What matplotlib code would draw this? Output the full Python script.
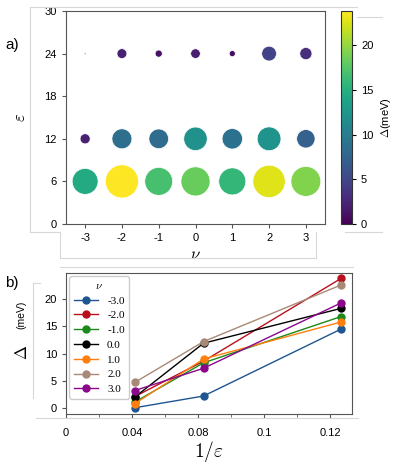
import numpy as np
import matplotlib
import matplotlib.pyplot as plt
from matplotlib.lines import Line2D

plt.rcParams['font.family'] = ['Liberation Sans', 'DejaVu Sans']
plt.rcParams['mathtext.fontset'] = 'cm'
plt.rcParams['axes.unicode_minus'] = False

# data
nu = [-3, -2, -1, 0, 1, 2, 3]
eps = [6, 12, 24]
delta_eps6 = [14.5, 23.8, 16.8, 18.3, 15.8, 22.6, 19.3]
delta_eps12 = [2.2, 8.6, 8.3, 11.9, 9.0, 12.2, 7.3]
delta_eps24 = [0.05, 2.1, 1.1, 2.0, 0.8, 4.7, 3.2]
line_colors = ['#1f5591', '#b8101c', '#1a8a1a', '#000000', '#ff7f0e', '#a88977', '#8b068b']
nu_labels = ['-3.0', '-2.0', '-1.0', '0.0', '1.0', '2.0', '3.0']

gaps = np.array([delta_eps6, delta_eps12, delta_eps24])
inv_eps = [1.0 / e for e in eps]

fig = plt.figure(figsize=(3.95, 4.63), dpi=100)

# faint frame lines left over from the composed figure
gray = '#d8d8d8'
def fline(xs, ys):
    fig.add_artist(Line2D(np.array(xs) / 395, 1 - np.array(ys) / 463,
                          color=gray, lw=0.8))
fline([30, 357], [7, 7])
fline([30, 30], [7, 232])
fline([30, 60], [232, 232])
fline([60, 60], [232, 257])
fline([60, 316], [258, 258])
fline([316, 316], [232, 257])
fline([357, 382], [17, 17])
fline([345, 382], [232, 232])
fline([60, 353], [267, 267])
fline([33, 33], [283, 398])
fline([33, 40], [283, 283])
fline([36, 358], [418, 418])

# ---- panel a ----
ax1 = fig.add_axes([66 / 395, 1 - 224 / 463, 259 / 395, 213 / 463])
vmax = gaps.max()
for e, row in zip(eps, gaps):
    sc = ax1.scatter(nu, [e] * len(nu), s=24.0 * row, c=row, cmap='viridis',
                     vmin=0, vmax=vmax, edgecolors='white', linewidths=0.5,
                     zorder=3)
ax1.set_xlim(-3.52, 3.52)
ax1.set_ylim(0, 30)
ax1.set_xticks(nu)
ax1.set_yticks([0, 6, 12, 18, 24, 30])
ax1.tick_params(labelsize=8, length=3, color='#555555')
for s in ax1.spines.values():
    s.set_color('#555555')
ax1.set_xlabel(r'$\nu$', fontsize=12, labelpad=3)
ax1.set_ylabel(r'$\varepsilon$', fontsize=12, labelpad=12)

cax = fig.add_axes([341 / 395, 1 - 224 / 463, 11 / 395, 213 / 463])
cb = fig.colorbar(sc, cax=cax)
cb.set_ticks([0, 5, 10, 15, 20])
cb.ax.tick_params(labelsize=8, length=3)
cb.outline.set_edgecolor('#333333')
cb.set_label(r'$\Delta$(meV)', fontsize=8, labelpad=4)

fig.text(5 / 395, 1 - 45 / 463, 'a)', fontsize=11, va='center')

# ---- panel b ----
ax2 = fig.add_axes([66 / 395, 1 - 414 / 463, 286 / 395, 141 / 463])
for i in range(len(nu)):
    ax2.plot(inv_eps, gaps[:, i], '-o', color=line_colors[i], lw=1,
             markersize=5, label=nu_labels[i])
ax2.set_xlim(0, 0.1733)
ax2.set_ylim(-1.1, 24.8)
ax2.set_xticks([0, 0.04, 0.08, 0.12, 0.16])
ax2.set_xticklabels(['0', '0.04', '0.08', '0.1', '0.12'])
ax2.set_xticks([0.02, 0.06, 0.10, 0.14], minor=True)
ax2.set_yticks([0, 5, 10, 15, 20])
ax2.tick_params(labelsize=8, length=3, color='#555555')
ax2.tick_params(axis='x', which='both', pad=7)
ax2.tick_params(axis='x', which='minor', length=2, color='#555555')
for s in ax2.spines.values():
    s.set_color('#555555')
ax2.set_xlabel(r'$1/\varepsilon$', fontsize=14, labelpad=1)
ax2.text(-0.155, 0.44, r'$\Delta$', transform=ax2.transAxes, rotation=90,
         fontsize=12, ha='center', va='center', family='DejaVu Sans')
ax2.text(-0.155, 0.70, '(meV)', transform=ax2.transAxes, rotation=90,
         fontsize=7.5, ha='center', va='center')
leg = ax2.legend(loc='upper left', title=r'$\nu$',
                 prop={'family': 'Liberation Serif', 'size': 8},
                 title_fontsize=8, labelspacing=0.45, handlelength=2.2,
                 borderaxespad=0.3, frameon=True, framealpha=1)
leg.get_frame().set_edgecolor('#cccccc')

fig.text(5 / 395, 1 - 283 / 463, 'b)', fontsize=11, va='center')

fig.savefig('out.png', dpi=100)
